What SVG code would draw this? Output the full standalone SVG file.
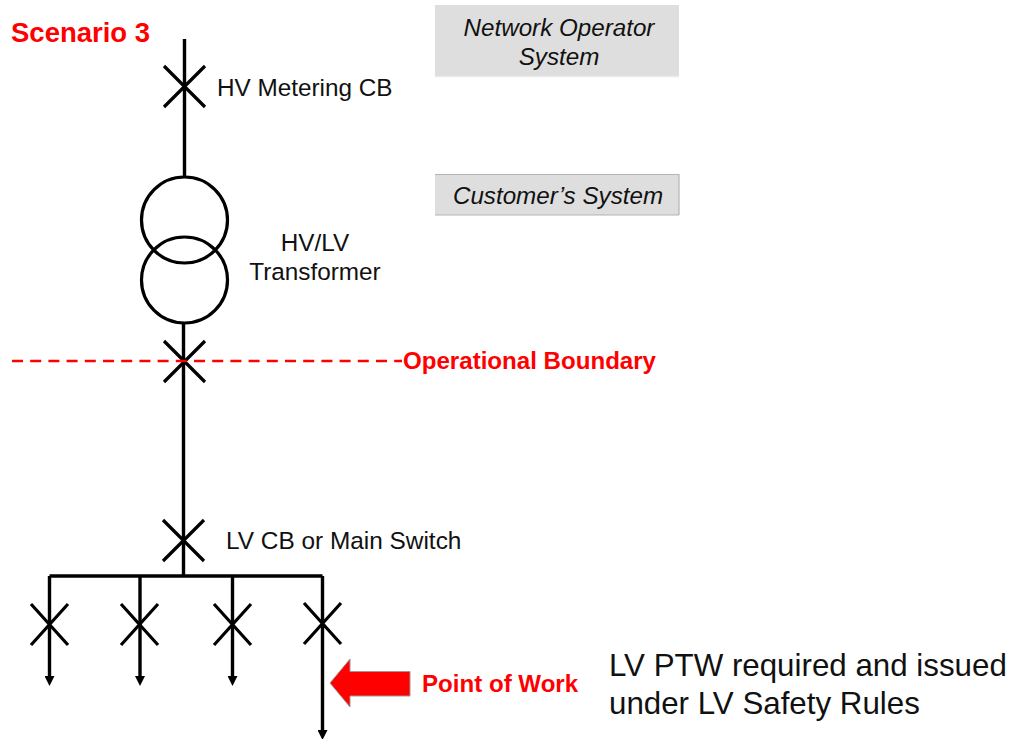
<svg xmlns="http://www.w3.org/2000/svg" width="1010" height="739" viewBox="0 0 1010 739">
<defs>
<marker id="ah" markerUnits="userSpaceOnUse" markerWidth="10" markerHeight="10" refX="1" refY="5" orient="auto" viewBox="0 0 10 10"><path d="M0 0L10 5L0 10Z" fill="#000"/></marker>
</defs>
<style>
text{font-family:"Liberation Sans",Arial,sans-serif;fill:#111}
.w{stroke:#000;stroke-width:3.4;fill:none}
.x{stroke:#000;stroke-width:3.2;fill:none}
.c{stroke:#000;stroke-width:3.2;fill:none}
.l{font-size:24.3px}
.s{font-size:24.2px;font-style:italic}
.r{fill:#f00;font-weight:bold}
.b{fill:#dedede}
.e{stroke:#b4b4b4;stroke-width:1.2;fill:none}
</style>
<rect width="1010" height="739" fill="#fff"/>
<g id="connectors">
<path class="w" d="M184.500 39V178"/>
<path class="w" d="M183.500 322V576"/>
<path class="w" d="M49.500 576H322.500"/>
<path class="w" d="M49.500 576V677" marker-end="url(#ah)"/>
<path class="w" d="M140 576V677" marker-end="url(#ah)"/>
<path class="w" d="M232.500 576V677" marker-end="url(#ah)"/>
<path class="w" d="M322.500 576V731" marker-end="url(#ah)"/>
</g>
<g id="hv-metering-cb"><path class="x" d="M164 66L205 107M205 66L164 107"/><text class="l" x="217" y="96">HV Metering CB</text></g>
<g id="transformer"><circle class="c" cx="184.500" cy="220" r="43"/><circle class="c" cx="184.500" cy="280" r="43"/><text class="l" x="315" y="251" text-anchor="middle">HV/LV</text><text class="l" x="315" y="280" text-anchor="middle">Transformer</text></g>
<g id="boundary-cb"><path class="x" d="M164 341L205 382M205 341L164 382"/></g>
<g id="operational-boundary"><path d="M12 361H402" stroke="#f00" stroke-width="2.500" stroke-dasharray="11 7.200" fill="none"/><text class="r" x="403" y="369" font-size="24.100">Operational Boundary</text></g>
<g id="lv-cb"><path class="x" d="M163 520L204 561M204 520L163 561"/><text class="l" x="226" y="549" style="font-size:24.400px">LV CB or Main Switch</text></g>
<g id="feeder-1"><path class="x" d="M31 604L68 645M68 604L31 645"/></g>
<g id="feeder-2"><path class="x" d="M121 604L158 645M158 604L121 645"/></g>
<g id="feeder-3"><path class="x" d="M214 604L251 645M251 604L214 645"/></g>
<g id="feeder-4"><path class="x" d="M304 603L341 644M341 603L304 644"/></g>
<g id="network-operator"><rect class="b" x="435" y="5" width="244" height="72"/><path d="M435 76.500H679" stroke="#eaeaea" stroke-width="1.500"/><text class="s" x="559" y="36" text-anchor="middle">Network Operator</text><text class="s" x="559" y="65" text-anchor="middle">System</text></g>
<g id="customer-system"><rect class="b" x="435" y="174" width="244" height="41"/><path class="e" d="M435 174.500H679M679 174V215M435 215H679"/><text class="s" x="558" y="204" text-anchor="middle">Customer’s System</text></g>
<g id="scenario"><text class="r" x="11" y="42" font-size="27.500">Scenario 3</text></g>
<g id="point-of-work"><path d="M330 683L350 659V671.500H410V696H350V707Z" fill="#f00" stroke="#999" stroke-width="1"/><text class="r" x="422" y="692" font-size="24.100">Point of Work</text></g>
<g id="ptw-note"><text x="609" y="675.500" font-size="31.300">LV PTW required and issued</text><text x="609" y="713.500" font-size="31.300">under LV Safety Rules</text></g>
</svg>
